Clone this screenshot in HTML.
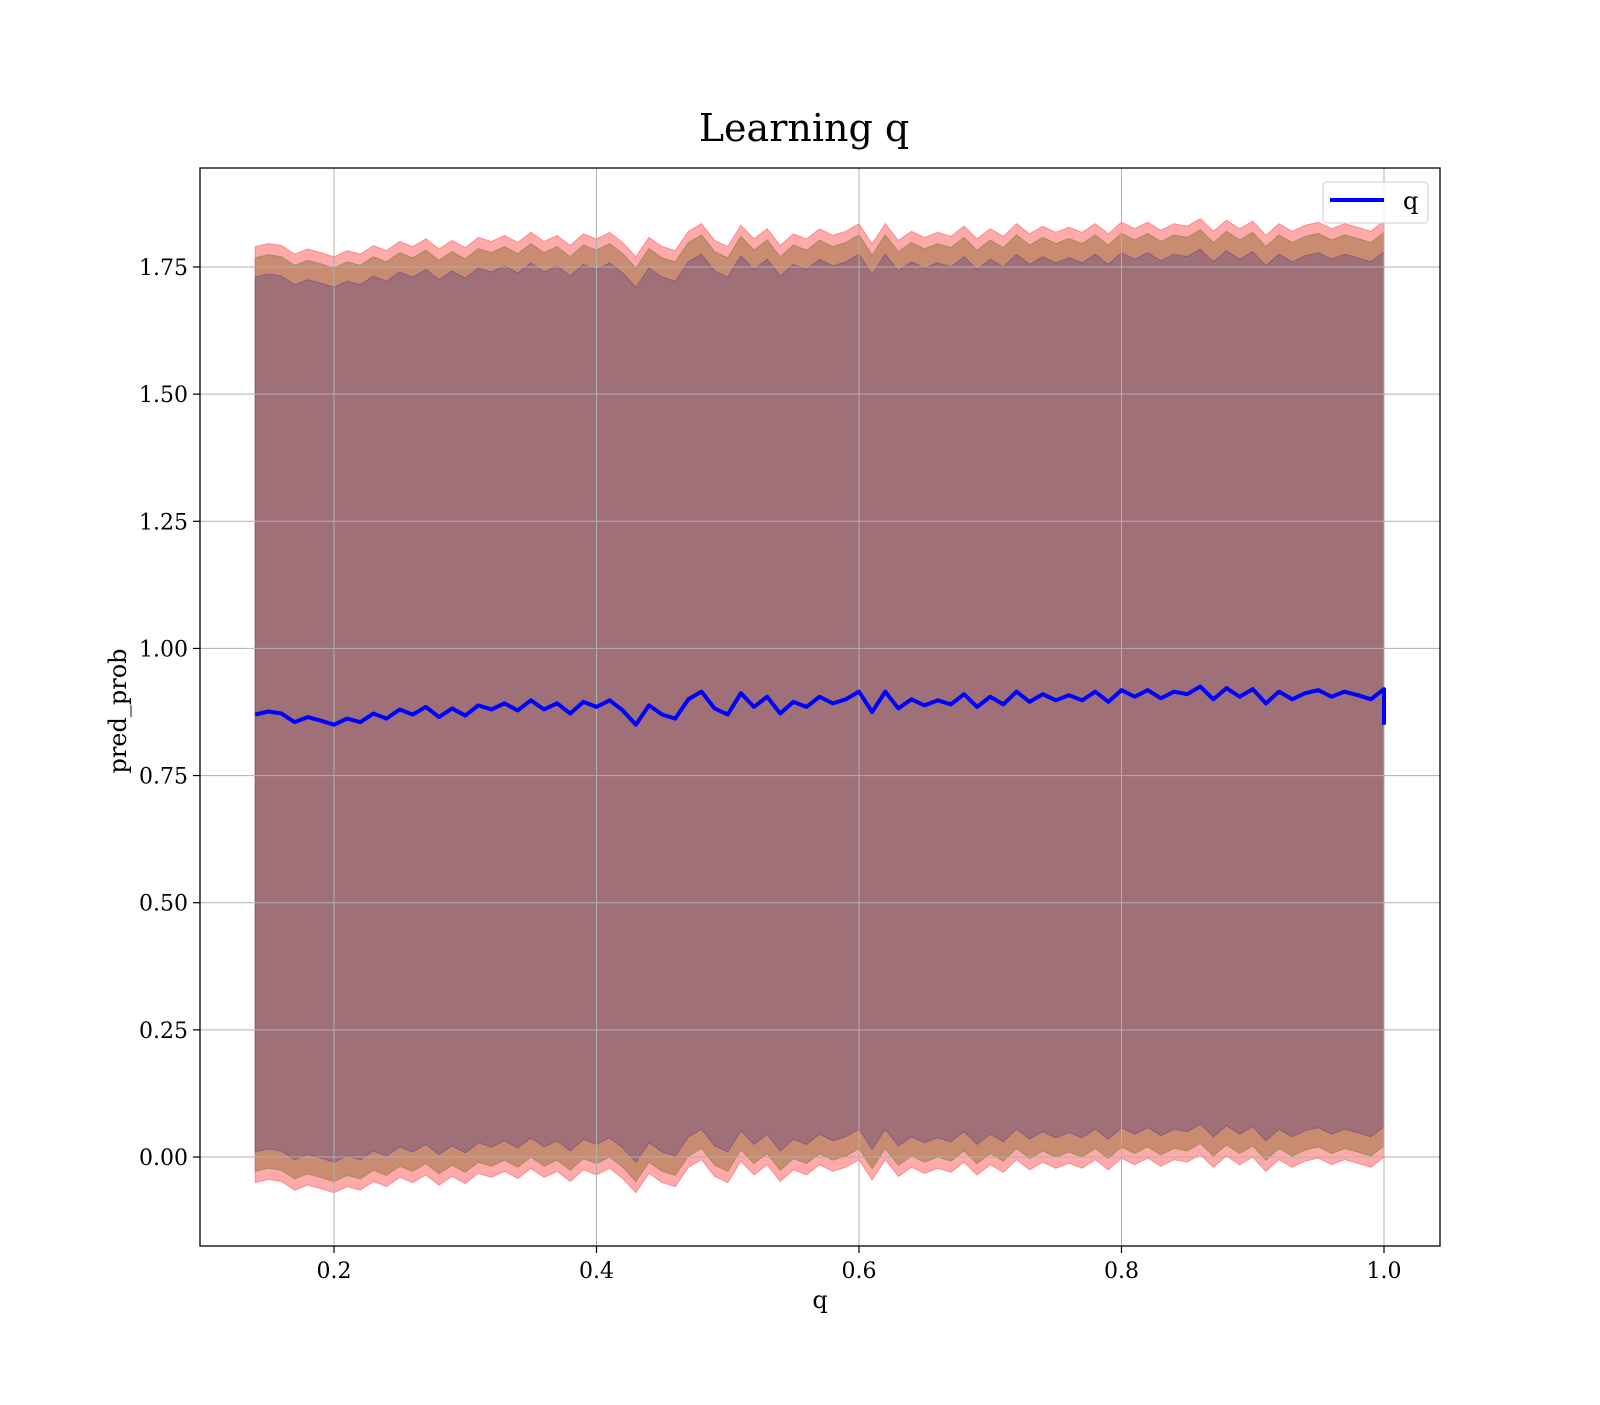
<!DOCTYPE html>
<html><head><meta charset="utf-8"><style>
body{margin:0;background:#fff}
svg text{font-family:"DejaVu Serif","Liberation Serif",serif;fill:#000}
</style></head><body>
<svg id="chart" width="1600" height="1400">
<text x="804" y="141" font-size="38" text-anchor="middle">Learning q</text>
<g id="plot"></g>
<rect x="200" y="168" width="1240" height="1078" fill="none" stroke="#000" stroke-width="1.3"/>
<text x="820" y="1308" font-size="24" text-anchor="middle">q</text>
<text transform="translate(126,711) rotate(-90)" font-size="24" text-anchor="middle">pred_prob</text>
<g>
<rect x="1323" y="182" width="105" height="41" rx="4" fill="#fff" fill-opacity="0.8" stroke="#ccc"/>
<line x1="1330" y1="200" x2="1384" y2="200" stroke="#0000ff" stroke-width="4"/>
<text x="1403" y="209" font-size="24">q</text>
</g>
</svg>
<script>
const meanVals=[0.870,0.876,0.872,0.855,0.865,0.858,0.850,0.862,0.855,0.872,0.862,0.880,0.870,0.885,0.865,0.882,0.868,0.888,0.880,0.892,0.878,0.898,0.880,0.892,0.872,0.895,0.885,0.898,0.878,0.850,0.888,0.870,0.862,0.900,0.915,0.882,0.870,0.912,0.885,0.905,0.872,0.895,0.885,0.905,0.892,0.900,0.915,0.875,0.915,0.882,0.900,0.888,0.898,0.890,0.910,0.885,0.905,0.890,0.915,0.895,0.910,0.898,0.908,0.898,0.915,0.895,0.918,0.905,0.918,0.902,0.915,0.910,0.925,0.900,0.922,0.905,0.920,0.892,0.915,0.900,0.912,0.918,0.905,0.915,0.908,0.900,0.920];
const qStart=0.14, qStep=0.01;
const endDrop=0.85;
const bandWidths=[0.92,0.898,0.86];
const bandColors=["#ffaaaa","#c98c70","#a07078"];
const bandEdges=["#ff8888","#a88860","#8a5a80"];
const xTicks=[0.2,0.4,0.6,0.8,1.0];
const xTickLabels=["0.2","0.4","0.6","0.8","1.0"];
const yTicks=[0,0.25,0.5,0.75,1.0,1.25,1.5,1.75];
const yTickLabels=["0.00","0.25","0.50","0.75","1.00","1.25","1.50","1.75"];
const X=q=>71.5+q*1312.5;
const Y=v=>1157-v*508.57;
const NS="http://www.w3.org/2000/svg";
const g=document.getElementById('plot');
function mk(t,a){const e=document.createElementNS(NS,t);for(const k in a)e.setAttribute(k,a[k]);g.appendChild(e);return e;}
const qs=meanVals.map((_,i)=>qStart+i*qStep);
bandWidths.forEach((w,bi)=>{
  let up=qs.map((q,i)=>X(q)+","+Y(meanVals[i]+w));
  let lo=qs.map((q,i)=>X(q)+","+Y(meanVals[i]-w)).reverse();
  const p=mk('polygon',{points:up.concat(lo).join(' '),fill:bandColors[bi],stroke:bandEdges[bi],'stroke-width':1});
  
  
});
yTicks.forEach((v,i)=>{
  const l=mk('line',{x1:200,x2:1440,y1:Y(v),y2:Y(v),stroke:'#b0b0b0','stroke-width':1});
  
  
  const t=mk('line',{x1:193,x2:200,y1:Y(v),y2:Y(v),stroke:'#000','stroke-width':1.2});
  
  
  const tx=mk('text',{x:188,y:Y(v)+8,'font-size':22,'text-anchor':'end'});
  tx.textContent=yTickLabels[i];
  
  
});
xTicks.forEach((v,i)=>{
  const l=mk('line',{x1:X(v),x2:X(v),y1:168,y2:1246,stroke:'#b0b0b0','stroke-width':1});
  
  
  const t=mk('line',{x1:X(v),x2:X(v),y1:1246,y2:1253,stroke:'#000','stroke-width':1.2});
  
  
  const tx=mk('text',{x:X(v),y:1278,'font-size':22,'text-anchor':'middle'});
  tx.textContent=xTickLabels[i];
  
  
});
let pts=qs.map((q,i)=>X(q)+","+Y(meanVals[i]));
pts.push(X(qs[qs.length-1])+","+Y(endDrop));
const line=mk('polyline',{points:pts.join(' '),fill:'none',stroke:'#0000ff','stroke-width':4,'stroke-linejoin':'round'});


</script>
</body></html>
